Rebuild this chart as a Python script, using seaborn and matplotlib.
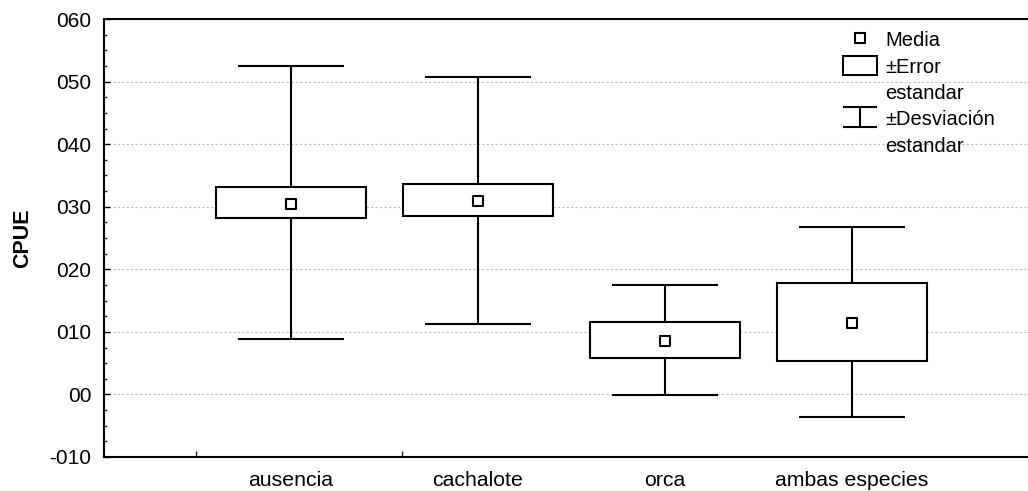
import numpy as np
import matplotlib
matplotlib.use("Agg")
import matplotlib.pyplot as plt
from matplotlib.lines import Line2D
from matplotlib.patches import Patch
from matplotlib.path import Path
import seaborn as sns

# ---- data ----
categories = ["ausencia", "cachalote", "orca", "ambas especies"]
media = [30.5, 30.9, 8.5, 11.4]
ee_low = [28.2, 28.5, 5.8, 5.4]       # media - error estandar
ee_high = [33.2, 33.7, 11.6, 17.8]    # media + error estandar
de_low = [8.9, 11.2, -0.1, -3.6]      # media - desviacion estandar
de_high = [52.5, 50.8, 17.5, 26.7]    # media + desviacion estandar
ytick_values = [-10, 0, 10, 20, 30, 40, 50, 60]
ytick_labels = ["-010", "00", "010", "020", "030", "040", "050", "060"]
legend_labels = ["Media", "\u00b1Error", "estandar", "\u00b1Desviaci\u00f3n", "estandar"]

sns.set_theme(style="white")
plt.rcParams["font.family"] = ["Liberation Sans", "DejaVu Sans"]
plt.rcParams["font.size"] = 15

fig = plt.figure(figsize=(10.28, 4.91), dpi=100)
ax = fig.add_axes([104 / 1028, 34 / 491, 935 / 1028, 438 / 491])

xpos = np.arange(len(categories))
media_a = np.array(media)
ee_lo = np.array(ee_low)
ee_hi = np.array(ee_high)
de_lo = np.array(de_low)
de_hi = np.array(de_high)

lw = 1.5
# whiskers (desviacion estandar)
ax.errorbar(xpos, media_a, yerr=[media_a - de_lo, de_hi - media_a], fmt="none",
            ecolor="black", elinewidth=lw, capsize=38, capthick=lw, zorder=2)
# boxes (error estandar)
ax.bar(xpos, ee_hi - ee_lo, bottom=ee_lo, width=0.8, color="white",
       edgecolor="black", linewidth=lw, zorder=3)
# means
sns.scatterplot(x=xpos, y=media_a, marker="s", s=45, color="white",
                edgecolor="black", linewidth=lw, zorder=4, ax=ax)

ax.set_xlim(-1, 4)
ax.set_ylim(-10, 60)
ax.set_yticks(ytick_values, ytick_labels)
ax.set_yticks(np.arange(-10, 60.01, 2.5), minor=True)
ax.set_xticks(xpos, categories)
ax.set_xticks([-0.51, 0.594], minor=True)
ax.tick_params(axis="x", which="major", length=0, pad=10, labelsize=15.3, colors="black")
ax.tick_params(axis="x", which="minor", direction="in", length=4, width=1, bottom=True)
ax.tick_params(axis="y", which="major", direction="in", length=4, width=1, left=True,
               labelsize=15, colors="black", pad=9)
ax.tick_params(axis="y", which="minor", direction="in", length=2.5, width=1, left=True)

ax.yaxis.grid(True, which="major", color="#bdbdbd", linestyle=(0, (2, 2)), linewidth=0.8)
ax.xaxis.grid(False)
ax.set_axisbelow(True)

for side in ["left", "bottom", "top", "right"]:
    ax.spines[side].set_color("black")
    ax.spines[side].set_linewidth(lw)

ax.set_ylabel("CPUE", fontsize=15.5, fontweight="bold", color="black")
ax.yaxis.set_label_coords(-(104 - 33) / 935, 0.5)
ax.set_xlabel("")

# legend
ibeam = Path([(-1, 0.6), (1, 0.6), (0, 0.6), (0, -0.6), (-1, -0.6), (1, -0.6)],
             [Path.MOVETO, Path.LINETO, Path.MOVETO, Path.LINETO, Path.MOVETO, Path.LINETO])
handles = [
    Line2D([], [], linestyle="none", marker="s", markersize=6.5, markerfacecolor="white",
           markeredgecolor="black", markeredgewidth=lw),
    Patch(facecolor="white", edgecolor="black", linewidth=lw),
    Line2D([], [], linestyle="none"),
    Line2D([], [], linestyle="none", marker=ibeam, markersize=25, markerfacecolor="none",
           markeredgecolor="black", markeredgewidth=lw),
    Line2D([], [], linestyle="none"),
]
leg = ax.legend(handles, legend_labels, loc="upper left",
                bbox_to_anchor=(843 / 1028, 1 - 30 / 491), bbox_transform=fig.transFigure,
                frameon=False, borderpad=0, borderaxespad=0, handlelength=1.68,
                handleheight=1.06, handletextpad=0.43, labelspacing=0.3, fontsize=14.5)
for t in leg.get_texts():
    t.set_color("black")

fig.savefig("out.png", dpi=100)
